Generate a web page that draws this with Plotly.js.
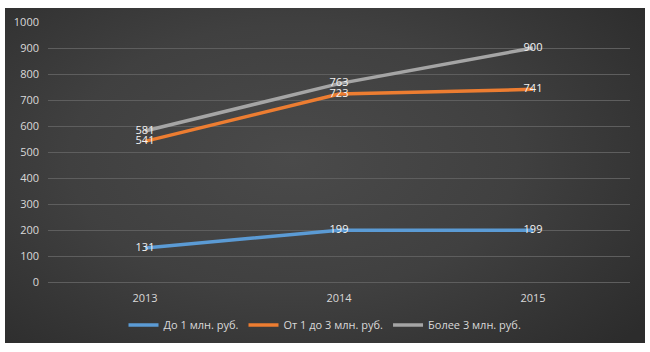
<!DOCTYPE html>
<html>
<head>
<meta charset="utf-8">
<script src="https://cdn.plot.ly/plotly-3.0.1.min.js"></script>
<style>
  html, body { margin: 0; padding: 0; background: #ffffff; }
  #wrap { position: relative; width: 650px; height: 352px; background: #ffffff; }
  #bg { position: absolute; left: 5px; top: 8px; width: 640px; height: 335px;
        background: radial-gradient(ellipse 70% 80% at 45% 45%, #4a4a4a 0%, #404040 50%, #2c2c2c 100%); }
  #chart { position: absolute; left: 0; top: 0; width: 650px; height: 352px; }
</style>
</head>
<body>
<div id="wrap"><div id="bg"></div><div id="chart"></div></div>
<script>
const years = ['2013', '2014', '2015'];
const seriesNames = ['До 1 млн. руб.', 'От 1 до 3 млн. руб.', 'Более 3 млн. руб.'];
const upTo1 = [131, 199, 199];
const from1to3 = [541, 723, 741];
const over3 = [581, 763, 900];
const yTicks = [0, 100, 200, 300, 400, 500, 600, 700, 800, 900, 1000];

const colors = ['#5b9bd5', '#ed7d31', '#a5a5a5'];
const allValues = [upTo1, from1to3, over3];

const traces = allValues.map((vals, i) => ({
  x: years,
  y: vals,
  name: seriesNames[i],
  type: 'scatter',
  mode: 'lines+text',
  line: { color: colors[i], width: 3.5 },
  text: vals.map(String),
  textposition: 'middle center',
  textfont: { family: 'Open Sans, sans-serif', size: 11, color: '#f2f2f2' },
  hoverinfo: 'skip',
  cliponaxis: false
}));

const layout = {
  width: 650,
  height: 352,
  paper_bgcolor: 'rgba(0,0,0,0)',
  plot_bgcolor: 'rgba(0,0,0,0)',
  margin: { l: 48, r: 20, t: 22, b: 70 },
  font: { family: 'Open Sans, sans-serif', size: 11, color: '#d9d9d9' },
  showlegend: true,
  legend: {
    orientation: 'h',
    xref: 'container',
    x: 0.5,
    xanchor: 'center',
    yref: 'container',
    y: 0.077,
    yanchor: 'middle',
    font: { family: 'Open Sans, sans-serif', size: 11, color: '#d9d9d9' },
    bgcolor: 'rgba(0,0,0,0)',
    itemwidth: 30,
    tracegroupgap: 0
  },
  xaxis: {
    type: 'category',
    categoryarray: years,
    range: [-0.5, 2.5],
    showgrid: false,
    zeroline: false,
    showline: false,
    ticks: '',
    ticklabelstandoff: 8,
    tickfont: { size: 11, color: '#d9d9d9' },
    fixedrange: true
  },
  yaxis: {
    range: [0, 1000],
    tickvals: yTicks,
    ticktext: yTicks.map(String),
    showgrid: true,
    gridcolor: '#5e5e5e',
    gridwidth: 1,
    zeroline: true,
    zerolinecolor: '#5e5e5e',
    zerolinewidth: 1,
    showline: false,
    ticks: '',
    ticklabelstandoff: 8,
    tickfont: { size: 11, color: '#d9d9d9' },
    fixedrange: true
  }
};

Plotly.newPlot('chart', traces, layout, { staticPlot: true, displayModeBar: false });
</script>
</body>
</html>
